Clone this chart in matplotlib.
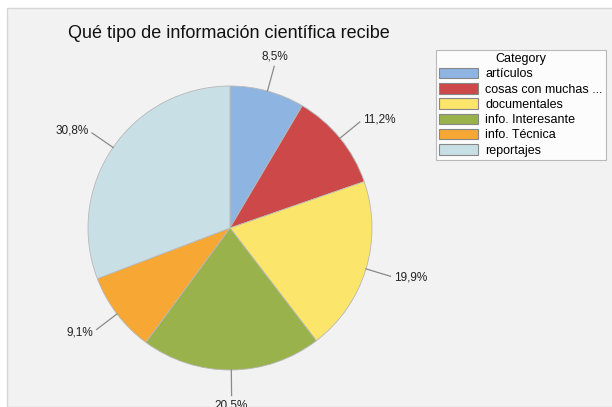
import numpy as np
import matplotlib.pyplot as plt
from matplotlib.patches import Rectangle

plt.rcParams['font.family'] = ['Liberation Sans', 'DejaVu Sans']

# Data
categories = ['artículos', 'cosas con muchas ...', 'documentales',
              'info. Interesante', 'info. Técnica', 'reportajes']
values = [8.5, 11.2, 19.9, 20.5, 9.1, 30.8]
colors = ['#8EB4E1', '#CC4849', '#FBE56B', '#9AB24C', '#F6A734', '#C9DFE6']

W, H = 612, 407
fig = plt.figure(figsize=(W / 100, H / 100), dpi=100)
fig.patch.set_facecolor('white')

# gray chart panel
fig.patches.append(Rectangle((7 / W, 0), 1, 1 - 8 / H, transform=fig.transFigure,
                             facecolor='#F2F2F2', edgecolor='#D6D6D6', lw=1, zorder=-5))

cx, cy, R = 230, 228, 142
ax = fig.add_axes([(cx - R) / W, (H - cy - R) / H, 2 * R / W, 2 * R / H])
ax.set_zorder(2)
wedges, _ = ax.pie(values, colors=colors, startangle=90, counterclock=False,
                   radius=1, wedgeprops=dict(edgecolor='#B8B8B8', linewidth=0.6))
ax.set_xlim(-1, 1)
ax.set_ylim(-1, 1)
ax.set_aspect('equal')
ax.axis('off')

# leader lines and percent labels
for w, v in zip(wedges, values):
    ang = np.deg2rad((w.theta1 + w.theta2) / 2)
    c, s = np.cos(ang), np.sin(ang)
    ax.plot([c, 1.18 * c], [s, 1.18 * s], color='#8A8A8A', lw=0.9, clip_on=False)
    if abs(c) < 0.3:
        ha = 'center'
    elif c > 0:
        ha = 'left'
    else:
        ha = 'right'
    va = 'bottom' if s > 0.9 else ('top' if s < -0.9 else 'center')
    ax.text(1.21 * c, 1.21 * s, f'{v:.1f}'.replace('.', ',') + '%',
            ha=ha, va=va, fontsize=8.5, color='#222222', clip_on=False)

fig.text(68 / W, 1 - 33 / H, 'Qué tipo de información científica recibe',
         fontsize=13, va='center', ha='left', color='#111111')

leg = fig.legend(wedges, categories, title='Category', loc='upper left',
                 bbox_to_anchor=(436 / W, 1 - 50 / H), borderaxespad=0,
                 fontsize=9, title_fontsize=9, handlelength=3.1, handleheight=0.9,
                 labelspacing=0.22, handletextpad=0.6, borderpad=0.25,
                 fancybox=False, frameon=True, edgecolor='#AAAAAA')
leg.set_zorder(3)
leg.get_frame().set_linewidth(0.8)
for p in leg.get_patches():
    p.set_edgecolor('#888888')
    p.set_linewidth(0.8)

fig.savefig('out.png', dpi=100, facecolor='white')
